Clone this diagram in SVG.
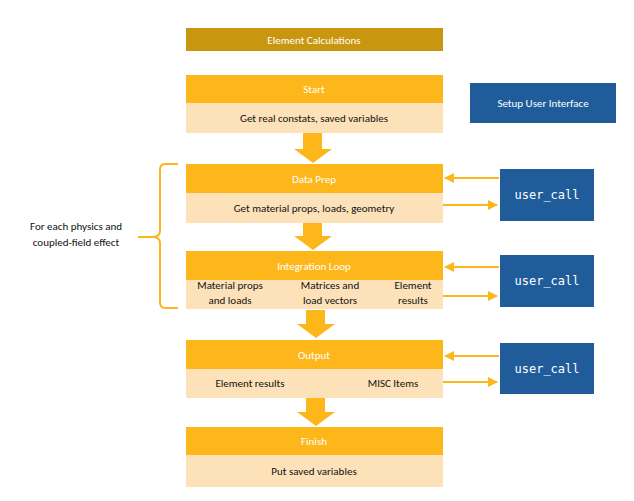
<svg xmlns="http://www.w3.org/2000/svg" width="634" height="501" viewBox="0 0 634 501">
<defs>
<style>
.hd{fill:#FDB71B}.bd{fill:#FDE1B9}.bl{fill:#1F5C99}
text{font-family:Calibri,"Liberation Sans",Carlito,sans-serif;font-size:11px;text-anchor:middle}
.w{fill:#fff}.k{fill:#111}
.m{font-family:"DejaVu Sans Mono","Liberation Mono",monospace;font-size:12px;fill:#fff}
.ln{stroke:#FDB71B;stroke-width:2;fill:none}
.ba{fill:#FDB71B}
</style>
<marker id="ah" viewBox="0 0 10 10" refX="9" refY="5" markerWidth="5" markerHeight="5" orient="auto"><path d="M0,0L10,5L0,10z" fill="#FDB71B"/></marker>
</defs>
<rect width="634" height="501" fill="#fff"/>
<g id="title"><rect x="186" y="28" width="257" height="23" fill="#C9960F"/><text x="314" y="44" class="w">Element Calculations</text></g>
<g id="start"><rect x="186" y="75" width="257" height="28" class="hd"/><rect x="186" y="103" width="257" height="30" class="bd"/><text x="314" y="93" class="w">Start</text><text x="314" y="122" class="k">Get real constats, saved variables</text></g>
<g id="setup"><rect x="470" y="83" width="146" height="40" class="bl"/><text x="543" y="107" class="w">Setup User Interface</text></g>
<g id="dataprep"><rect x="186" y="164" width="257" height="29" class="hd"/><rect x="186" y="193" width="257" height="30" class="bd"/><text x="314" y="183" class="w">Data Prep</text><text x="314" y="212" class="k">Get material props, loads, geometry</text></g>
<g id="integ"><rect x="186" y="251" width="257" height="29" class="hd"/><rect x="186" y="280" width="257" height="29" class="bd"/><text x="314" y="270" class="w">Integration Loop</text>
<text x="230" y="289" class="k">Material props</text><text x="230" y="304" class="k">and loads</text>
<text x="330" y="289" class="k">Matrices and</text><text x="330" y="304" class="k">load vectors</text>
<text x="413" y="289" class="k">Element</text><text x="413" y="304" class="k">results</text></g>
<g id="output"><rect x="186" y="340" width="257" height="29" class="hd"/><rect x="186" y="369" width="257" height="29" class="bd"/><text x="314" y="359" class="w">Output</text><text x="250" y="387" class="k">Element results</text><text x="393" y="387" class="k">MISC Items</text></g>
<g id="finish"><rect x="186" y="427" width="257" height="28" class="hd"/><rect x="186" y="455" width="257" height="32" class="bd"/><text x="314" y="445" class="w">Finish</text><text x="314" y="475" class="k">Put saved variables</text></g>
<g id="uc1"><rect x="500" y="169" width="94" height="52" class="bl"/><text x="547" y="199" class="m">user_call</text></g>
<g id="uc2"><rect x="500" y="255" width="94" height="52" class="bl"/><text x="547" y="285" class="m">user_call</text></g>
<g id="uc3"><rect x="500" y="343" width="94" height="51" class="bl"/><text x="547" y="373" class="m">user_call</text></g>
<g id="brace"><path class="ln" d="M178,164 H165 Q160,164 160,170 V231 Q160,237 152,237 H138 H152 Q160,237 160,243 V302 Q160,308 165,308 H178"/>
<text x="76" y="230" class="k">For each physics and</text><text x="76" y="246" class="k">coupled-field effect</text></g>
<g id="connectors">
<path class="ba" d="M303,133H322V149H332L313,163L294,149H303Z"/>
<path class="ba" d="M303,223H322V236H332L313,250L294,236H303Z"/>
<path class="ba" d="M306,310H325V324H335L316,338L297,324H306Z"/>
<path class="ba" d="M306,398H325V412H335L316,426L297,412H306Z"/>
<line class="ln" x1="499" y1="178" x2="445" y2="178" marker-end="url(#ah)"/>
<line class="ln" x1="443" y1="205" x2="497" y2="205" marker-end="url(#ah)"/>
<line class="ln" x1="499" y1="267" x2="445" y2="267" marker-end="url(#ah)"/>
<line class="ln" x1="443" y1="296" x2="497" y2="296" marker-end="url(#ah)"/>
<line class="ln" x1="499" y1="356" x2="445" y2="356" marker-end="url(#ah)"/>
<line class="ln" x1="443" y1="382" x2="497" y2="382" marker-end="url(#ah)"/>
</g>
</svg>
